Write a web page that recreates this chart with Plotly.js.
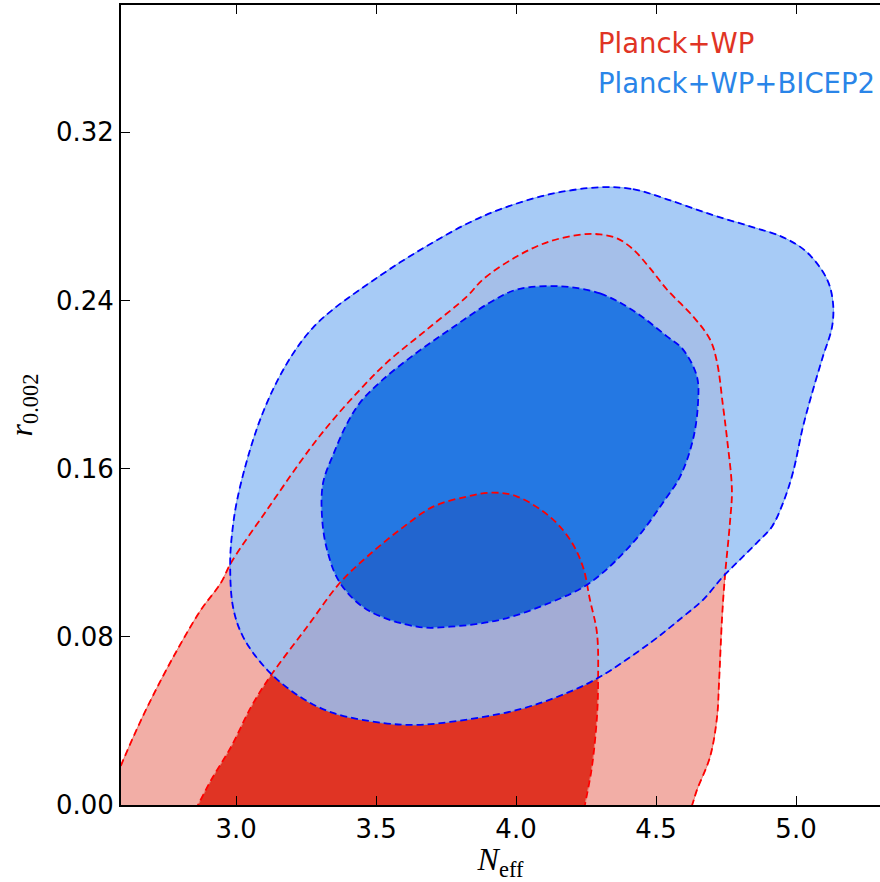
<!DOCTYPE html>
<html>
<head>
<meta charset="utf-8">
<script src="https://cdn.plot.ly/plotly-3.0.1.min.js"></script>
<style>html,body{margin:0;padding:0;background:#fff;}#chart{width:880px;height:882px;}</style>
</head>
<body>
<div id="chart"></div>
<script>
// ---- Data: contour outlines (N_eff, r_0.002) ----
// Planck+WP+BICEP2, 95% contour
const blue95_x = [4.300,4.418,4.539,4.693,4.836,4.954,5.039,5.111,5.132,5.129,5.096,5.061,5.025,4.989,4.954,4.914,4.861,4.800,4.739,4.668,4.596,4.479,4.300,4.182,4.004,3.764,3.646,3.525,3.346,3.229,3.111,3.025,2.989,2.979,2.986,3.004,3.050,3.096,3.150,3.211,3.275,3.346,3.443,3.586,3.704,3.821,3.943,4.121];
const blue95_y = [0.2938,0.2929,0.2881,0.2810,0.2752,0.2700,0.2629,0.2500,0.2390,0.2276,0.2133,0.1976,0.1800,0.1581,0.1438,0.1324,0.1248,0.1167,0.1086,0.0976,0.0895,0.0771,0.0610,0.0533,0.0452,0.0395,0.0381,0.0390,0.0438,0.0514,0.0643,0.0800,0.0943,0.1152,0.1295,0.1452,0.1690,0.1867,0.2024,0.2162,0.2271,0.2357,0.2452,0.2581,0.2676,0.2762,0.2833,0.2905];
// Planck+WP+BICEP2, 68% contour
const blue68_x = [4.157,4.300,4.418,4.539,4.596,4.646,4.650,4.632,4.586,4.532,4.418,4.264,4.121,3.943,3.764,3.646,3.468,3.371,3.325,3.307,3.311,3.350,3.393,3.443,3.525,3.646,3.764,3.907,4.004];
const blue68_y = [0.2467,0.2433,0.2352,0.2229,0.2167,0.2038,0.1914,0.1738,0.1562,0.1452,0.1248,0.1057,0.0962,0.0881,0.0848,0.0848,0.0929,0.1057,0.1214,0.1371,0.1533,0.1676,0.1805,0.1914,0.2024,0.2152,0.2262,0.2390,0.2452];
// Planck+WP, 95% contour (runs off the lower and left edges)
const red95_x = [2.500,2.532,2.592,2.661,2.732,2.804,2.875,2.946,2.982,3.111,3.264,3.350,3.443,3.539,3.682,3.825,3.882,4.004,4.121,4.239,4.300,4.361,4.418,4.479,4.539,4.632,4.693,4.718,4.739,4.754,4.771,4.764,4.746,4.736,4.725,4.718,4.693,4.646,4.629,4.600];
const red95_y = [-0.0105,0.0,0.0198,0.0405,0.0595,0.0771,0.0929,0.1057,0.1152,0.1405,0.1695,0.1838,0.1976,0.2105,0.2262,0.2419,0.2500,0.2610,0.2681,0.2714,0.2714,0.2695,0.2643,0.2552,0.2452,0.2324,0.2214,0.2105,0.1900,0.1738,0.1500,0.1343,0.1086,0.0895,0.0581,0.0419,0.0229,0.0071,0.0,-0.010];
// Planck+WP, 68% contour (runs off the lower edge)
const red68_x = [2.836,2.864,2.911,2.982,3.054,3.121,3.254,3.371,3.468,3.586,3.704,3.825,3.918,4.004,4.121,4.193,4.239,4.264,4.289,4.293,4.289,4.271,4.246,4.236];
const red68_y = [-0.007,0.0,0.0119,0.0276,0.0467,0.0610,0.0848,0.1057,0.1181,0.1310,0.1419,0.1467,0.1486,0.1467,0.1371,0.1262,0.1133,0.0976,0.0819,0.0581,0.0419,0.0181,0.0,-0.007];

const xTicks = [3.0,3.5,4.0,4.5,5.0];
const yTicks = [0.00,0.08,0.16,0.24,0.32];
const xTickText = ['3.0','3.5','4.0','4.5','5.0'];
const yTickText = ['0.00','0.08','0.16','0.24','0.32'];
const seriesNames = ['Planck+WP','Planck+WP+BICEP2'];

// ---- Build traces ----
const close = a => a.concat([a[0]]);
// blue 95% annulus: outer ring + reversed inner ring (hole)
const b68xr = close(blue68_x).slice().reverse();
const b68yr = close(blue68_y).slice().reverse();
const annX = close(blue95_x).concat([null]).concat(b68xr);
const annY = close(blue95_y).concat([null]).concat(b68yr);

const dash = '7px,4px';
const sm = 1.0;
const edge = (c) => ({color:c, width:1, shape:'spline', smoothing:sm});
const dl = (c) => ({color:c, width:1.8, dash:dash, shape:'spline', smoothing:sm});
const traces = [
  {x: red95_x, y: red95_y, type:'scatter', mode:'lines', fill:'toself', fillcolor:'rgb(242,174,166)',
   line:edge('rgb(232,122,110)'), hoverinfo:'skip', showlegend:false},
  {x: red68_x, y: red68_y, type:'scatter', mode:'lines', fill:'toself', fillcolor:'rgb(224,52,36)',
   line:edge('rgb(232,122,110)'), hoverinfo:'skip', showlegend:false},
  {x: annX, y: annY, type:'scatter', mode:'lines', fill:'toself', fillcolor:'rgba(152,194,244,0.85)',
   line:edge('rgba(100,160,235,0.9)'), connectgaps:false, hoverinfo:'skip', showlegend:false},
  {x: close(blue68_x), y: close(blue68_y), type:'scatter', mode:'lines', fill:'toself', fillcolor:'rgba(0,111,237,0.85)',
   line:edge('rgba(100,160,235,0.9)'), hoverinfo:'skip', showlegend:false},
  // dashed contour lines
  {x: red95_x, y: red95_y, type:'scatter', mode:'lines', line:dl('rgb(255,0,0)'), hoverinfo:'skip', showlegend:false},
  {x: red68_x, y: red68_y, type:'scatter', mode:'lines', line:dl('rgb(255,0,0)'), hoverinfo:'skip', showlegend:false},
  {x: close(blue95_x), y: close(blue95_y), type:'scatter', mode:'lines', line:dl('rgb(0,0,255)'), hoverinfo:'skip', showlegend:false},
  {x: close(blue68_x), y: close(blue68_y), type:'scatter', mode:'lines', line:dl('rgb(0,0,255)'), hoverinfo:'skip', showlegend:false}
];

const tickFont = {family:'DejaVu Sans', size:26, color:'#000'};
const layout = {
  width:880, height:882,
  margin:{l:121, r:0, t:5, b:77, pad:0},
  paper_bgcolor:'#fff', plot_bgcolor:'#fff',
  showlegend:false,
  xaxis:{range:[2.589,5.3], tickvals:xTicks, ticktext:xTickText, ticks:'inside', ticklen:9, tickwidth:1, tickcolor:'#000',
    showline:true, linewidth:2, linecolor:'#000', mirror:'ticks', showgrid:false, zeroline:false, tickfont:tickFont,
    title:{text:'<i>N</i><sub>eff</sub>', font:{family:'Liberation Serif', size:32, color:'#000'}, standoff:5}},
  yaxis:{range:[0,0.3805], tickvals:yTicks, ticktext:yTickText, ticks:'inside', ticklen:9, tickwidth:1, tickcolor:'#000',
    showline:true, linewidth:2, linecolor:'#000', showgrid:false, zeroline:false, tickfont:tickFont,
    title:{text:'<i>r</i><sub>0.002</sub>', font:{family:'Liberation Serif', size:32, color:'#000'}, standoff:14}},
  annotations:[
    {text:seriesNames[0], xref:'paper', yref:'paper', x:0.6258, y:0.9525, xanchor:'left', yanchor:'middle', showarrow:false,
     font:{family:'DejaVu Sans', size:27.5, color:'rgb(224,52,36)'}},
    {text:seriesNames[1], xref:'paper', yref:'paper', x:0.6258, y:0.9025, xanchor:'left', yanchor:'middle', showarrow:false,
     font:{family:'DejaVu Sans', size:27.5, color:'rgb(42,133,232)'}}
  ]
};
Plotly.newPlot('chart', traces, layout, {staticPlot:true, displayModeBar:false});
</script>
</body>
</html>
